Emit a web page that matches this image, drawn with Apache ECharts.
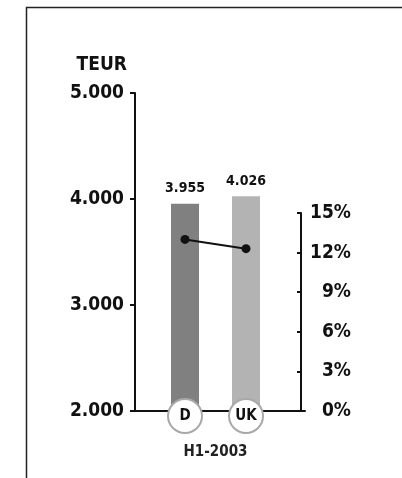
<!DOCTYPE html>
<html><head><meta charset="utf-8">
<script src="https://cdn.jsdelivr.net/npm/echarts@6/dist/echarts.min.js"></script>
<style>html,body{margin:0;padding:0;background:#fff}#c{width:402px;height:478px}</style>
</head><body><div id="c"></div>
<script>
const categories = ['D', 'UK'];
const revenue = [3955, 4026];
const margin = [13.0, 12.3];
const barColors = ['#808080', '#b3b3b3'];
const periodLabel = 'H1-2003';
const unitLabel = 'TEUR';

const FONT = '"DejaVu Sans Condensed", "DejaVu Sans", sans-serif';
const chart = echarts.init(document.getElementById('c'));
const fmtDE = v => v.toFixed(0).replace(/\B(?=(\d{3})+(?!\d))/g, '.');

chart.setOption({
  animation: false,
  textStyle: { fontFamily: FONT },
  graphic: [{
    type: 'polyline', silent: true,
    shape: { points: [[26.5, 478], [26.5, 7.5], [402, 7.5]] },
    style: { stroke: '#222', lineWidth: 1.5, fill: null }
  }],
  grid: [
    { left: 154.5, right: 125.5, top: 93, bottom: 67 },
    { left: 154.5, right: 125.5, top: 213, bottom: 67 },
    { left: 135, right: 97, top: 300, bottom: 67 }
  ],
  xAxis: [
    { type: 'category', gridIndex: 0, data: categories, z: 10,
      axisLine: { show: false }, axisTick: { show: false },
      axisLabel: { margin: -11, formatter: v => '{c|' + v + '}',
        rich: { c: { width: 32, height: 32, lineHeight: 32, align: 'center',
          borderRadius: 18, borderWidth: 2, borderColor: '#a8a8a8',
          backgroundColor: '#fff', fontFamily: FONT, fontWeight: 'bold',
          fontSize: 15, color: '#111' } } },
      name: periodLabel, nameLocation: 'middle', nameGap: 34,
      nameTextStyle: { fontFamily: FONT, fontWeight: 'bold', fontSize: 15, color: '#222' } },
    { type: 'category', gridIndex: 1, data: categories, show: false },
    { type: 'value', gridIndex: 2, min: 0, max: 1,
      axisLine: { show: true, lineStyle: { color: '#111', width: 2 } },
      axisTick: { show: false }, axisLabel: { show: false }, splitLine: { show: false } }
  ],
  yAxis: [
    { type: 'value', gridIndex: 0, min: 2000, max: 5000, interval: 1000, offset: 19.5,
      axisLine: { show: true, lineStyle: { color: '#111', width: 2 } },
      axisTick: { show: true, length: 5, lineStyle: { color: '#111', width: 2 } },
      splitLine: { show: false },
      axisLabel: { margin: 11, formatter: fmtDE, fontFamily: FONT, fontWeight: 'bold', fontSize: 19, color: '#111' },
      name: unitLabel, nameLocation: 'end', nameGap: 28,
      nameTextStyle: { align: 'right', verticalAlign: 'middle', padding: [0, 8, 0, 0],
        fontFamily: FONT, fontWeight: 'bold', fontSize: 19, color: '#111' } },
    { type: 'value', gridIndex: 1, position: 'right', min: 0, max: 15, interval: 3, offset: 24.5,
      axisLine: { show: true, lineStyle: { color: '#111', width: 2 } },
      axisTick: { show: true, inside: true, length: 4, lineStyle: { color: '#111', width: 2 } },
      splitLine: { show: false },
      axisLabel: { margin: 50, align: 'right', formatter: v => v + '%', fontFamily: FONT, fontWeight: 'bold', fontSize: 19, color: '#111' } },
    { type: 'value', gridIndex: 2, show: false }
  ],
  series: [
    { type: 'bar', xAxisIndex: 0, yAxisIndex: 0, barWidth: 28,
      data: revenue.map((v, i) => ({ value: v, itemStyle: { color: barColors[i] } })),
      label: { show: true, position: 'top', distance: 8, formatter: p => fmtDE(p.value),
        fontFamily: FONT, fontWeight: 'bold', fontSize: 14, color: '#111' } },
    { type: 'line', xAxisIndex: 1, yAxisIndex: 1, data: margin,
      symbol: 'circle', symbolSize: 9, z: 5,
      lineStyle: { color: '#111', width: 2 }, itemStyle: { color: '#111' } }
  ]
});
</script></body></html>
